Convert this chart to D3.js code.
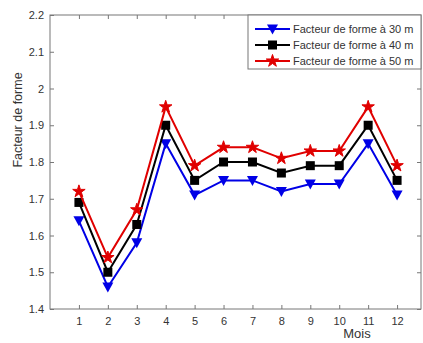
<!DOCTYPE html>
<html>
<head>
<meta charset="utf-8">
<script src="https://cdn.jsdelivr.net/npm/d3@7"></script>
<style>
  body { margin: 0; background: #fff; }
  text { font-family: "Liberation Sans", Arial, sans-serif; }
</style>
</head>
<body>
<div id="chart"></div>
<script>
// Data
const months = [1, 2, 3, 4, 5, 6, 7, 8, 9, 10, 11, 12];
const f30 = [1.64, 1.46, 1.58, 1.85, 1.71, 1.75, 1.75, 1.72, 1.74, 1.74, 1.85, 1.71];
const f40 = [1.69, 1.50, 1.63, 1.90, 1.75, 1.80, 1.80, 1.77, 1.79, 1.79, 1.90, 1.75];
const f50 = [1.72, 1.54, 1.67, 1.95, 1.79, 1.84, 1.84, 1.81, 1.83, 1.83, 1.95, 1.79];
const yTicks = [1.4, 1.5, 1.6, 1.7, 1.8, 1.9, 2, 2.1, 2.2];
const seriesNames = ["Facteur de forme à 30 m", "Facteur de forme à 40 m", "Facteur de forme à 50 m"];

const series = [
  { name: seriesNames[0], values: f30, color: "#0000e6", symbol: "tri" },
  { name: seriesNames[1], values: f40, color: "#000000", symbol: "square" },
  { name: seriesNames[2], values: f50, color: "#e00000", symbol: "star" }
];

const W = 423, H = 343;
const plot = { left: 50, top: 15, right: 421, bottom: 309 };

const svg = d3.select("#chart").append("svg")
    .attr("width", W)
    .attr("height", H);

const x = d3.scaleLinear().domain([0, 13]).range([plot.left, 426]);
const y = d3.scaleLinear().domain([1.4, 2.2]).range([plot.bottom, plot.top]);

const axisColor = "#777";
const textColor = "#333";

// Frame
svg.append("rect")
    .attr("x", plot.left).attr("y", plot.top)
    .attr("width", plot.right - plot.left).attr("height", plot.bottom - plot.top)
    .attr("fill", "none")
    .attr("stroke", axisColor)
    .attr("stroke-width", 1);

// Bottom axis
const xAxis = svg.append("g")
    .attr("transform", `translate(0,${plot.bottom})`)
    .call(d3.axisBottom(x).tickValues(months).tickSize(-4).tickPadding(8).tickFormat(d3.format("d")));
xAxis.select(".domain").remove();

// Top ticks
const xTop = svg.append("g")
    .attr("transform", `translate(0,${plot.top})`)
    .call(d3.axisTop(x).tickValues(months).tickSize(-4).tickFormat(""));
xTop.select(".domain").remove();

// Left axis
const yAxis = svg.append("g")
    .attr("transform", `translate(${plot.left},0)`)
    .call(d3.axisLeft(y).tickValues(yTicks).tickSize(-4).tickPadding(6).tickFormat(d3.format("")));
yAxis.select(".domain").remove();

// Right ticks
const yRight = svg.append("g")
    .attr("transform", `translate(${plot.right},0)`)
    .call(d3.axisRight(y).tickValues(yTicks).tickSize(-4).tickFormat(""));
yRight.select(".domain").remove();

svg.selectAll(".tick line").attr("stroke", axisColor);
svg.selectAll(".tick text")
    .attr("fill", textColor)
    .style("font-size", "11px");

// Axis labels
svg.append("text")
    .attr("x", 357)
    .attr("y", 338)
    .attr("text-anchor", "middle")
    .attr("fill", textColor)
    .style("font-size", "13px")
    .text("Mois");

svg.append("text")
    .attr("transform", "rotate(-90)")
    .attr("x", -120)
    .attr("y", 22)
    .attr("text-anchor", "middle")
    .attr("fill", textColor)
    .style("font-size", "12.5px")
    .text("Facteur de forme");

// Marker drawing
function drawMarker(g, symbol, color, cx, cy) {
  if (symbol === "tri") {
    g.append("path")
      .attr("d", `M${cx - 5.5},${cy - 4.5}L${cx + 5.5},${cy - 4.5}L${cx},${cy + 5.5}Z`)
      .attr("fill", color);
  } else if (symbol === "square") {
    g.append("rect")
      .attr("x", cx - 4.5).attr("y", cy - 4.5)
      .attr("width", 9).attr("height", 9)
      .attr("fill", color);
  } else {
    g.append("path")
      .attr("d", d3.symbol().type(d3.symbolStar).size(48)())
      .attr("transform", `translate(${cx},${cy})`)
      .attr("fill", color)
      .attr("stroke", color)
      .attr("stroke-width", 1);
  }
}

const line = d3.line()
    .x((d, i) => x(months[i]))
    .y(d => y(d));

series.forEach(s => {
  svg.append("path")
    .datum(s.values)
    .attr("fill", "none")
    .attr("stroke", s.color)
    .attr("stroke-width", 2)
    .attr("d", line);
  const g = svg.append("g");
  s.values.forEach((v, i) => drawMarker(g, s.symbol, s.color, x(months[i]), y(v)));
});

// Legend
const legend = svg.append("g");
legend.append("rect")
    .attr("x", 248).attr("y", 15)
    .attr("width", 173).attr("height", 54)
    .attr("fill", "#fff")
    .attr("stroke", axisColor);

series.forEach((s, i) => {
  const ly = 29 + i * 16;
  legend.append("line")
    .attr("x1", 255).attr("x2", 290)
    .attr("y1", ly).attr("y2", ly)
    .attr("stroke", s.color)
    .attr("stroke-width", 2);
  drawMarker(legend, s.symbol, s.color, 272.5, ly);
  legend.append("text")
    .attr("x", 293)
    .attr("y", ly + 4)
    .attr("fill", textColor)
    .style("font-size", "11px")
    .text(s.name);
});
</script>
</body>
</html>
